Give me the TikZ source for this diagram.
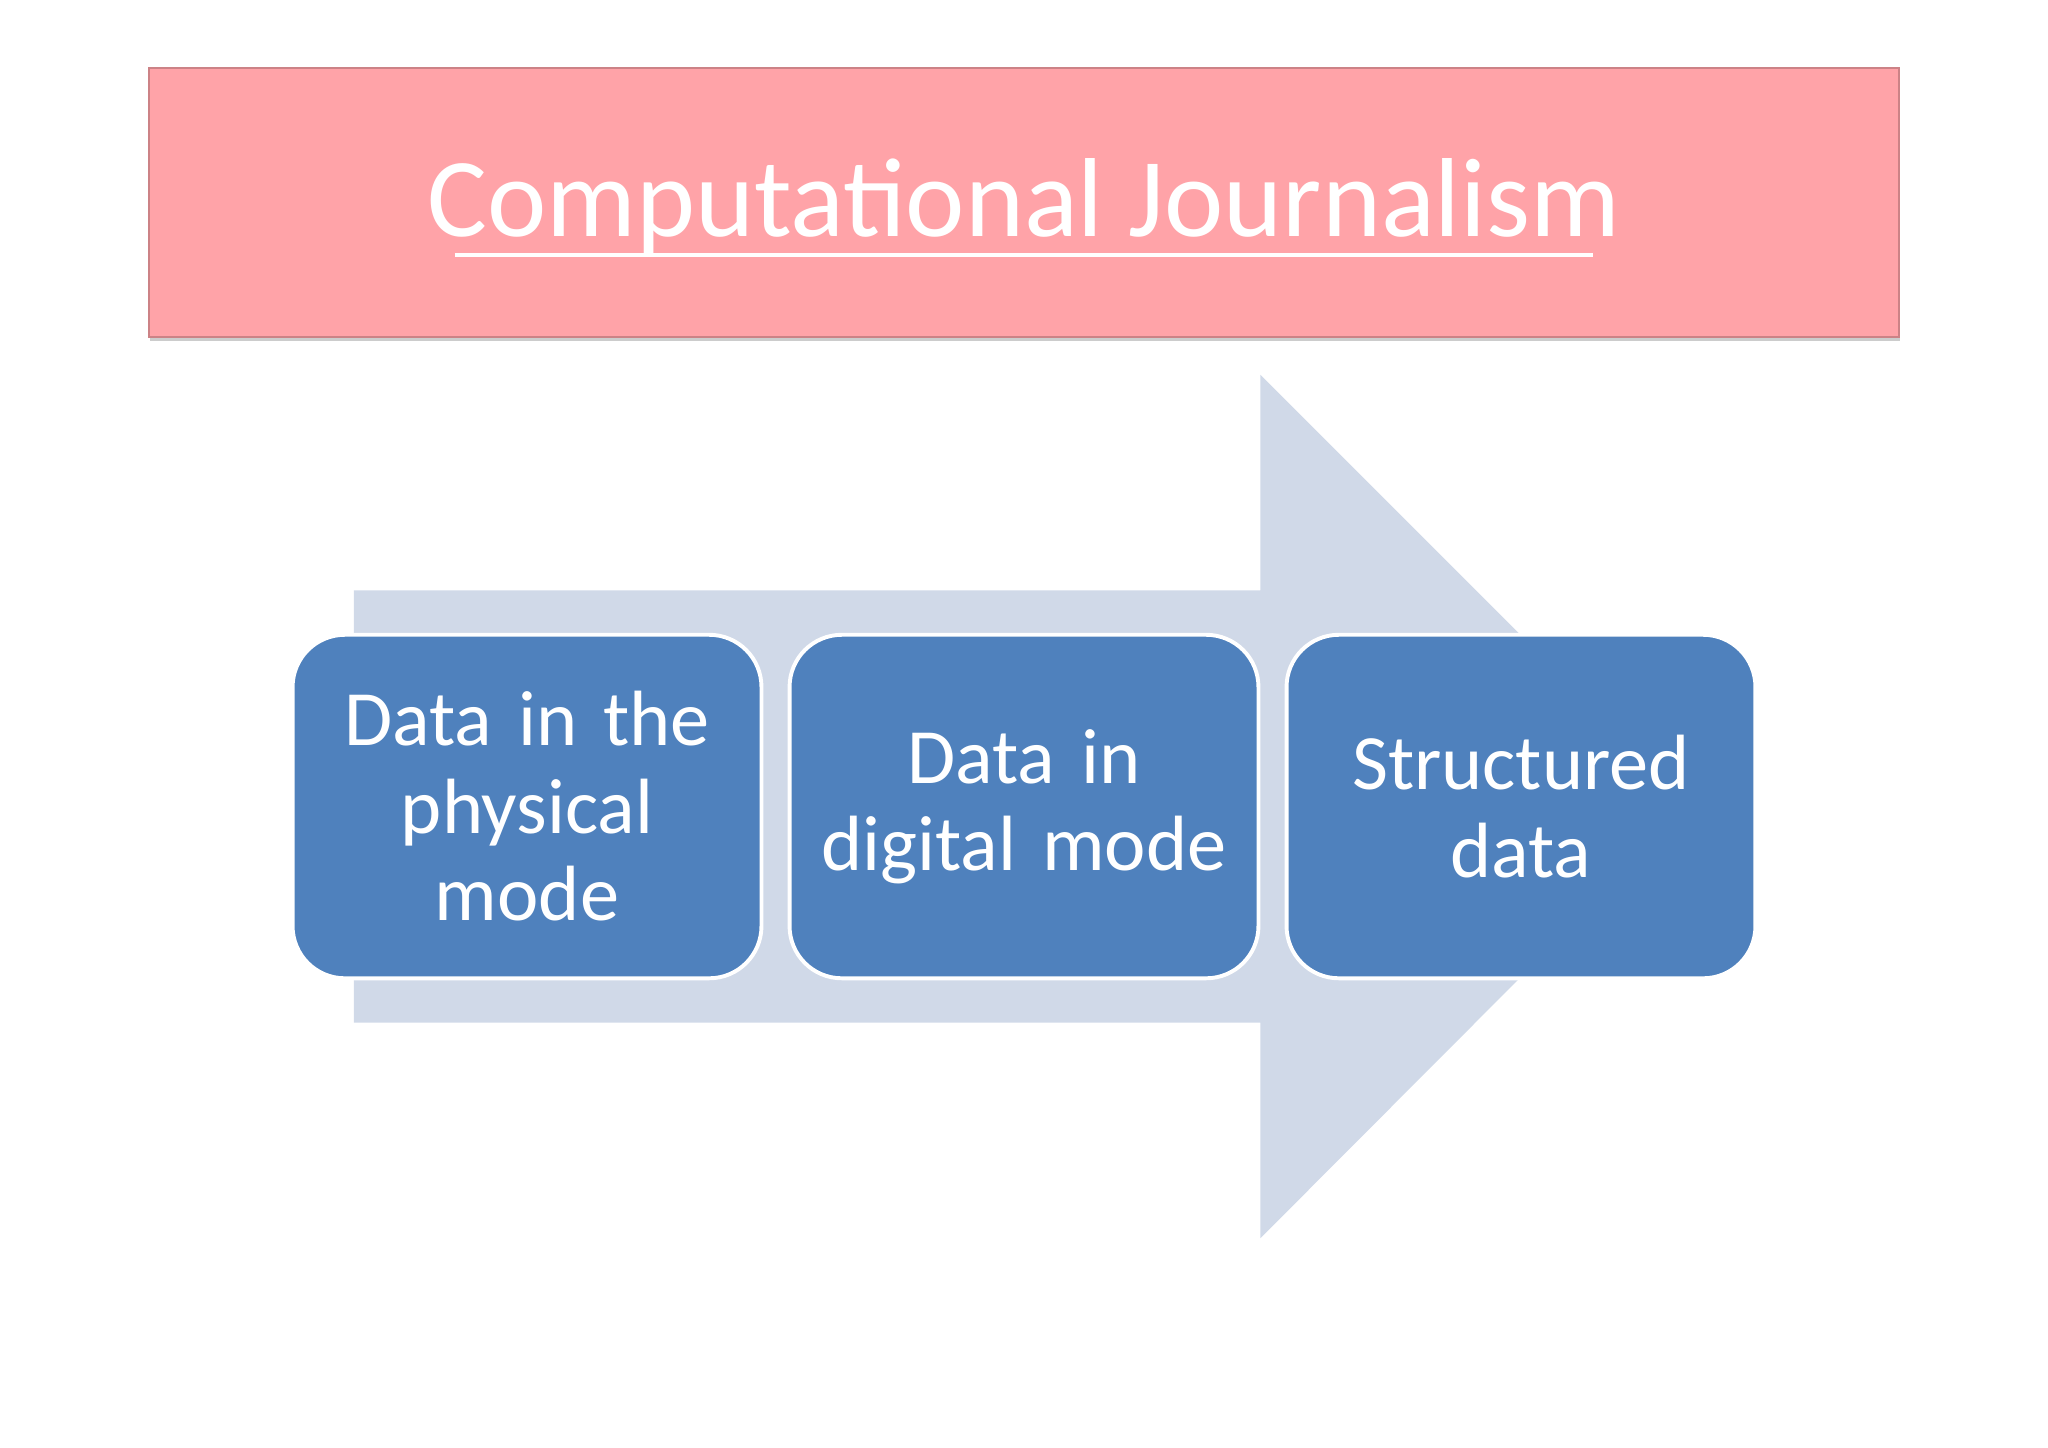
\documentclass[tikz,border=0pt]{standalone}
\usepackage{fontspec}
\setmainfont{Carlito}
\usetikzlibrary{shadows}
\definecolor{pinkc}{HTML}{FFA3A8}
\definecolor{arrowc}{HTML}{D0D9E8}
\definecolor{boxc}{HTML}{4F81BD}
\tikzset{
 stepbox/.style={draw=white,line width=3pt,fill=boxc,rounded corners=40pt,minimum width=359pt,minimum height=263pt,text width=330pt,align=center,text=white,font=\fontsize{60}{67}\selectfont},
}
\begin{document}
\begin{tikzpicture}[x=1pt,y=-1pt]
\useasboundingbox (0,0) rectangle (1568,1108);
\fill[white] (0,0) rectangle (1568,1108);
\node[draw=pinkc!80!black,line width=1pt,fill=pinkc,minimum width=1340pt,minimum height=206pt,drop shadow={shadow xshift=1pt,shadow yshift=-3pt,opacity=0.4}] (title) at (784,155) {};
\node[text=white,font=\fontsize{86}{90}\selectfont] (tt) at (784,158) {Computational Journalism};
\draw[white,line width=3pt] (348,195) -- (1220,195);
\fill[arrowc] (271,452) -- (965,452) -- (965,287) -- (1295,617) -- (965,948) -- (965,783) -- (271,783) -- cycle;
\node[stepbox] (a) at (403.5,617.5) {Data in the physical mode};
\node[stepbox] (b) at (784,617.5) {Data in digital mode};
\node[stepbox] (c) at (1164.5,617.5) {Structured data};
\end{tikzpicture}
\end{document}
